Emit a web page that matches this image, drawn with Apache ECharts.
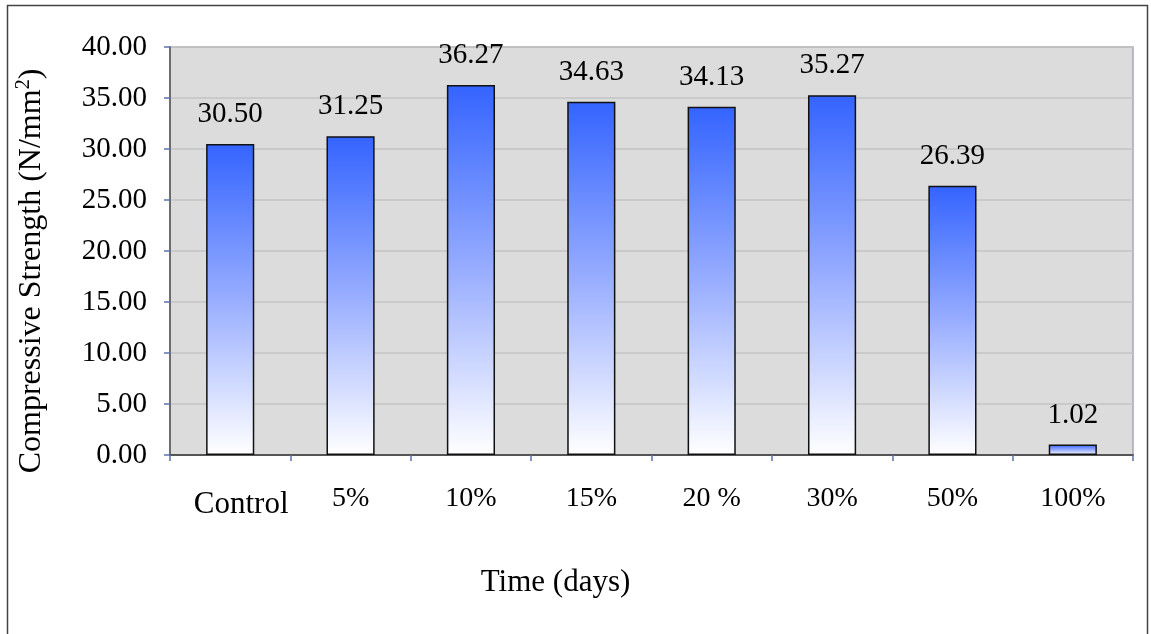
<!DOCTYPE html>
<html>
<head>
<meta charset="utf-8">
<script src="https://cdn.jsdelivr.net/npm/echarts@6/dist/echarts.min.js"></script>
<style>
html,body{margin:0;padding:0;background:#fff;}
#chart{width:1151px;height:634px;}
</style>
</head>
<body>
<div id="chart"></div>
<script>
const categories = ['Control', '5%', '10%', '15%', '20 %', '30%', '50%', '100%'];
const strengthValues = [30.50, 31.25, 36.27, 34.63, 34.13, 35.27, 26.39, 1.02];
const yTicks = { min: 0, max: 40, interval: 5 };

const FONT = "'Liberation Serif','Times New Roman',serif";
const chart = echarts.init(document.getElementById('chart'));

chart.setOption({
  backgroundColor: '#ffffff',
  animation: false,
  graphic: [{
    type: 'rect',
    shape: { x: 7.5, y: 5.5, width: 1140, height: 700 },
    style: { fill: 'none', stroke: '#444', lineWidth: 1.5 },
    silent: true
  }],
  grid: {
    left: 170, right: 18, top: 47, bottom: 179,
    show: true,
    backgroundColor: '#dcdcdc',
    borderColor: '#a4a6b4',
    borderWidth: 1.5
  },
  xAxis: {
    type: 'category',
    data: categories,
    axisLine: { show: true, lineStyle: { color: '#555', width: 2 } },
    axisTick: { show: true, interval: 0, length: 6, inside: false, lineStyle: { color: '#5a72b0', width: 1.5 } },
    axisLabel: {
      interval: 0,
      margin: 30,
      color: '#000',
      fontFamily: FONT,
      fontSize: 28,
      formatter: function (v, i) {
        return i === 0 ? '{c|' + v + '}' : '{n|' + v + '}';
      },
      rich: {
        c: { fontFamily: FONT, fontSize: 31, color: '#000', padding: [4, 0, 0, 22] },
        n: { fontFamily: FONT, fontSize: 28, color: '#000' }
      }
    },
    name: 'Time (days)',
    nameLocation: 'middle',
    nameGap: 112,
    nameTextStyle: { fontFamily: FONT, fontSize: 31, color: '#000', padding: [0, 192, 0, 0] }
  },
  yAxis: {
    type: 'value',
    min: yTicks.min,
    max: yTicks.max,
    interval: yTicks.interval,
    axisLine: { show: true, lineStyle: { color: '#555', width: 1.5 } },
    axisTick: { show: true, length: 6, inside: false, lineStyle: { color: '#5a72b0', width: 1.5 } },
    splitLine: { show: true, lineStyle: { color: '#c4c4c4', width: 1.5 } },
    axisLabel: {
      margin: 23,
      color: '#000',
      fontFamily: FONT,
      fontSize: 29,
      formatter: function (v) { return v.toFixed(2); }
    },
    name: '{a|Compressive Strength (N/mm}{b|2}{a|)}',
    nameLocation: 'middle',
    nameGap: 120,
    nameRotate: 90,
    nameTextStyle: {
      fontFamily: FONT, fontSize: 32, color: '#000',
      padding: [0, 40, 0, 0],
      rich: {
        a: { fontFamily: FONT, fontSize: 32, color: '#000' },
        b: { fontFamily: FONT, fontSize: 20, color: '#000', padding: [0, 0, 16, 0] }
      }
    }
  },
  series: [{
    type: 'bar',
    data: strengthValues,
    barWidth: '40%',
    itemStyle: {
      borderColor: '#111',
      borderWidth: 1.5,
      color: new echarts.graphic.LinearGradient(0, 0, 0, 1, [
        { offset: 0, color: '#3464ff' },
        { offset: 0.5, color: '#98adff' },
        { offset: 1, color: '#ffffff' }
      ])
    },
    label: {
      show: true,
      position: 'top',
      distance: 15,
      color: '#000',
      fontFamily: FONT,
      fontSize: 29,
      formatter: function (p) { return p.value.toFixed(2); }
    }
  }]
});
</script>
</body>
</html>
